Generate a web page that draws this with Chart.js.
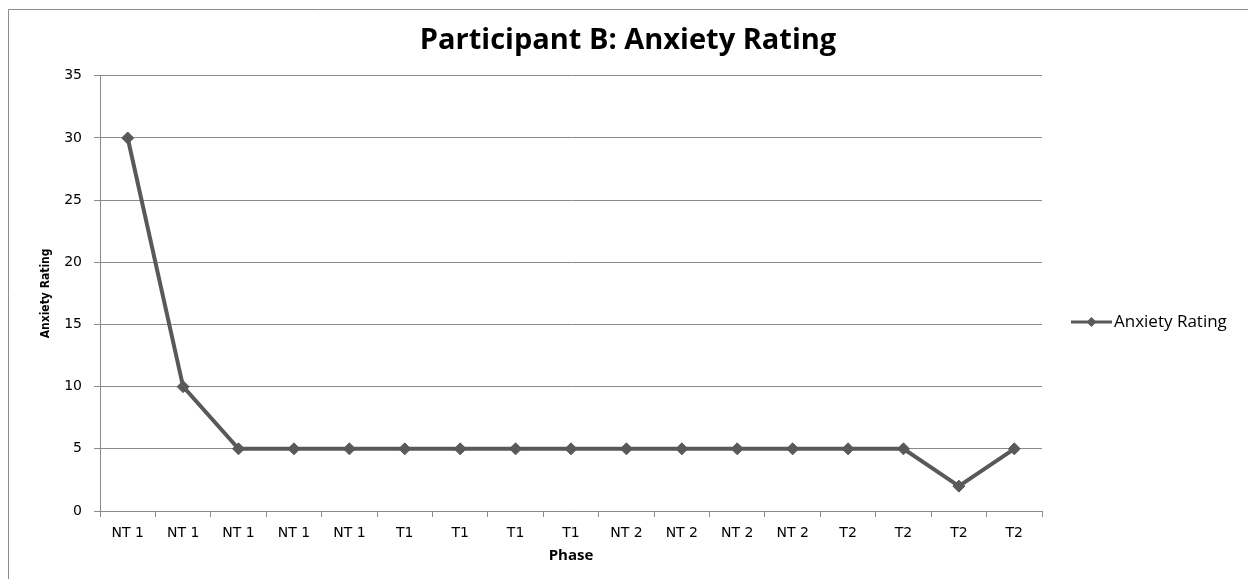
<!DOCTYPE html>
<html>
<head>
<meta charset="utf-8">
<script src="https://cdn.jsdelivr.net/npm/chart.js@4/dist/chart.umd.min.js"></script>
<style>
  html, body { margin: 0; padding: 0; background: #ffffff; }
  #wrap { width: 1248px; height: 579px; position: relative; }
</style>
</head>
<body>
<div id="wrap"><canvas id="chart" width="1248" height="579"></canvas></div>
<script>
// Session phases along the horizontal axis
const phases = ['NT 1', 'NT 1', 'NT 1', 'NT 1', 'NT 1', 'T1', 'T1', 'T1', 'T1',
                'NT 2', 'NT 2', 'NT 2', 'NT 2', 'T2', 'T2', 'T2', 'T2'];
// Anxiety rating recorded at each session
const anxietyRatings = [30, 10, 5, 5, 5, 5, 5, 5, 5, 5, 5, 5, 5, 5, 5, 2, 5];
// Value-axis range
const yTicks = { min: 0, max: 35, step: 5 };

const seriesName = 'Anxiety Rating';
const lineColor = '#595959';
const gridColor = '#8a8a8a';

// Outer frame of the chart object
const framePlugin = {
  id: 'frame',
  beforeDraw(chart) {
    const ctx = chart.ctx;
    ctx.save();
    ctx.fillStyle = '#ffffff';
    ctx.fillRect(0, 0, chart.width, chart.height);
    ctx.strokeStyle = '#8c8c8c';
    ctx.lineWidth = 1;
    ctx.beginPath();
    ctx.moveTo(8.5, chart.height + 2);
    ctx.lineTo(8.5, 9.5);
    ctx.lineTo(chart.width + 2, 9.5);
    ctx.stroke();
    ctx.restore();
  }
};

// Legend on the right: line sample with a diamond marker, then the series name
const sideLegendPlugin = {
  id: 'sideLegend',
  afterDraw(chart) {
    const ctx = chart.ctx;
    const ds = chart.data.datasets[0];
    const y = (chart.chartArea.top + chart.chartArea.bottom) / 2 + 28.5;
    const x0 = 1071, x1 = 1112;
    ctx.save();
    ctx.strokeStyle = ds.borderColor;
    ctx.lineWidth = 3;
    ctx.beginPath();
    ctx.moveTo(x0, y);
    ctx.lineTo(x1, y);
    ctx.stroke();
    const cx = (x0 + x1) / 2, r = 5;
    ctx.fillStyle = ds.pointBackgroundColor;
    ctx.beginPath();
    ctx.moveTo(cx, y - r);
    ctx.lineTo(cx + r, y);
    ctx.lineTo(cx, y + r);
    ctx.lineTo(cx - r, y);
    ctx.closePath();
    ctx.fill();
    ctx.fillStyle = '#000000';
    ctx.font = '17px "Open Sans", sans-serif';
    ctx.textBaseline = 'middle';
    ctx.textAlign = 'left';
    ctx.fillText(ds.label, x1 + 2, y);
    ctx.restore();
  }
};

new Chart(document.getElementById('chart'), {
  type: 'line',
  data: {
    labels: phases,
    datasets: [{
      label: seriesName,
      data: anxietyRatings,
      borderColor: lineColor,
      backgroundColor: lineColor,
      borderWidth: 4,
      tension: 0,
      pointStyle: 'rectRot',
      pointRadius: 6,
      pointBackgroundColor: lineColor,
      pointBorderColor: lineColor,
      pointBorderWidth: 1
    }]
  },
  options: {
    responsive: false,
    animation: false,
    layout: { padding: { top: 10, left: 10, right: 2, bottom: 0 } },
    plugins: {
      legend: { display: false },
      tooltip: { enabled: false },
      title: {
        display: true,
        text: 'Participant B: Anxiety Rating',
        color: '#000000',
        font: { family: '"Open Sans", sans-serif', size: 29, weight: 'bold' },
        padding: { top: 13, bottom: 18 }
      }
    },
    scales: {
      x: {
        offset: true,
        afterFit(scale) { scale.height = 68; },
        grid: { offset: true, drawOnChartArea: false, drawTicks: true, tickLength: 6, color: gridColor },
        border: { display: true, color: gridColor, width: 1 },
        ticks: {
          color: '#000000',
          padding: 8,
          maxRotation: 0,
          autoSkip: false,
          font: { family: '"DejaVu Sans", sans-serif', size: 14 }
        },
        title: {
          display: true,
          text: 'Phase',
          color: '#000000',
          font: { family: '"Open Sans", sans-serif', size: 15, weight: 'bold' },
          padding: { top: 0, bottom: 14 }
        }
      },
      y: {
        min: yTicks.min,
        max: yTicks.max,
        afterFit(scale) { scale.width = 90; },
        grid: { color: gridColor, lineWidth: 1, drawTicks: true, tickLength: 6 },
        border: { display: true, color: gridColor, width: 1 },
        ticks: {
          stepSize: yTicks.step,
          color: '#000000',
          padding: 12,
          font: { family: '"DejaVu Sans", sans-serif', size: 14 }
        },
        title: {
          display: true,
          text: 'Anxiety Rating',
          color: '#000000',
          font: { family: '"DejaVu Sans Condensed", "DejaVu Sans", sans-serif', size: 12, weight: 'bold' },
          padding: { top: 29, bottom: 0 }
        }
      },
      // Empty right-hand band that holds the legend
      legendBand: {
        position: 'right',
        display: true,
        afterFit(scale) { scale.width = 204; },
        grid: { display: false },
        border: { display: false },
        ticks: { display: false }
      }
    }
  },
  plugins: [framePlugin, sideLegendPlugin]
});
</script>
</body>
</html>
